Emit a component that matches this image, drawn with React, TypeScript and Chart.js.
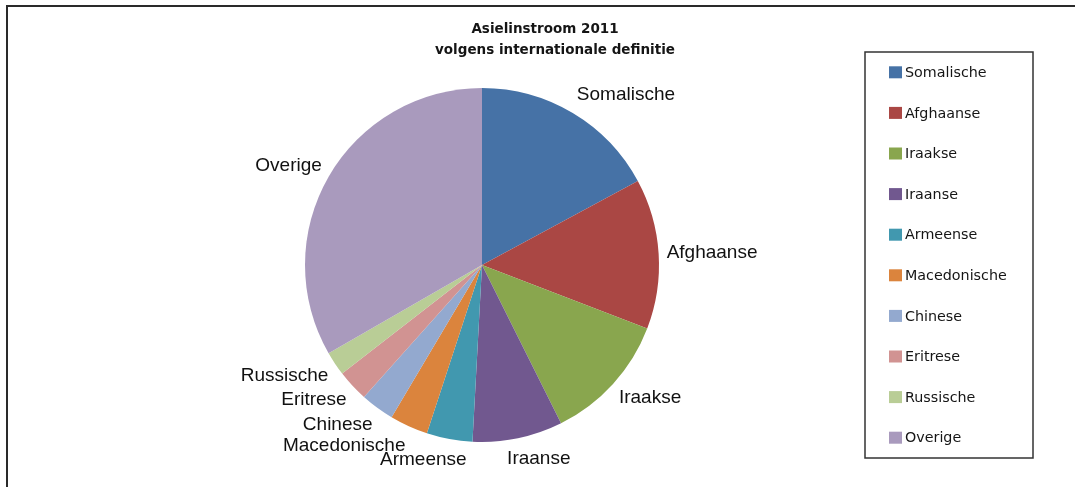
import React, { useEffect, useRef } from "react";
import { Chart, registerables } from "chart.js";

Chart.register(...registerables);

const categories = [
  "Somalische",
  "Afghaanse",
  "Iraakse",
  "Iraanse",
  "Armeense",
  "Macedonische",
  "Chinese",
  "Eritrese",
  "Russische",
  "Overige",
];
const inflow = [2500, 2000, 1720, 1200, 610, 510, 450, 420, 320, 4860];
const titleLines = ["Asielinstroom 2011", "volgens internationale definitie"];
const sliceColors = [
  "#4672A6",
  "#AA4744",
  "#89A64E",
  "#71588F",
  "#4198AF",
  "#DB843D",
  "#93A9CF",
  "#D19392",
  "#B9CD96",
  "#A99ABD",
];

const W = 1075;
const H = 487;

const decorPlugin = {
  id: "decor",
  afterDraw(chart: any) {
    const ctx: CanvasRenderingContext2D = chart.ctx;
    ctx.save();

    // outer frame
    ctx.strokeStyle = "#2a2a2a";
    ctx.lineWidth = 2;
    ctx.strokeRect(7, 6, W + 20, H + 20);

    // title
    ctx.fillStyle = "#151515";
    ctx.font = "bold 13.5px 'DejaVu Sans'";
    ctx.textAlign = "center";
    ctx.textBaseline = "middle";
    ctx.fillText(titleLines[0], 545, 29);
    ctx.fillText(titleLines[1], 555, 50);

    // slice labels (outside end, pulled toward the axis near the bottom)
    const meta = chart.getDatasetMeta(0);
    ctx.font = "19px 'Liberation Sans'";
    ctx.fillStyle = "#111";
    const gap = 8;
    const hh = 26;
    meta.data.forEach((arc: any, i: number) => {
      const p = arc.getProps(["x", "y", "startAngle", "endAngle", "outerRadius"], true);
      const mid = (p.startAngle + p.endAngle) / 2;
      const dx = Math.cos(mid);
      const dy = Math.sin(mid);
      const w = ctx.measureText(categories[i]).width;
      const pull = w * Math.max(0, 0.4 - Math.abs(dx));
      const px = p.x + (p.outerRadius + gap) * dx - Math.sign(dx) * pull;
      const py = p.y + (p.outerRadius + gap) * dy;
      ctx.textAlign = dx >= 0 ? "left" : "right";
      ctx.textBaseline = "middle";
      ctx.fillText(categories[i], px, py + (dy * hh) / 2);
    });

    // legend box
    const lx = 865;
    const ly = 52;
    const lw = 168;
    const lh = 406;
    ctx.strokeStyle = "#333";
    ctx.lineWidth = 1.5;
    ctx.strokeRect(lx, ly, lw, lh);
    ctx.font = "14.3px 'DejaVu Sans'";
    ctx.textAlign = "left";
    ctx.textBaseline = "middle";
    const n = categories.length;
    for (let i = 0; i < n; i++) {
      const cy = ly + ((i + 0.5) * lh) / n;
      ctx.fillStyle = sliceColors[i];
      ctx.fillRect(lx + 24, cy - 6, 13, 12);
      ctx.fillStyle = "#151515";
      ctx.fillText(categories[i], lx + 40, cy + 1);
    }
    ctx.restore();
  },
};

export default function App() {
  const ref = useRef<HTMLCanvasElement>(null);
  useEffect(() => {
    document.body.style.margin = "0";
    const chart = new Chart(ref.current as HTMLCanvasElement, {
      type: "pie",
      data: {
        labels: categories,
        datasets: [
          {
            data: inflow,
            backgroundColor: sliceColors,
            borderWidth: 0,
          },
        ],
      },
      options: {
        responsive: false,
        animation: false,
        devicePixelRatio: 1,
        layout: { padding: { left: 305, right: 416, top: 88, bottom: 45 } },
        plugins: {
          legend: { display: false },
          title: { display: false },
          tooltip: { enabled: false },
        },
      },
      plugins: [decorPlugin],
    });
    return () => chart.destroy();
  }, []);
  return (
    <div style={{ position: "fixed", left: 0, top: 0, width: W, height: H, background: "#fff" }}>
      <canvas ref={ref} width={W} height={H} style={{ display: "block", width: W, height: H }} />
    </div>
  );
}
